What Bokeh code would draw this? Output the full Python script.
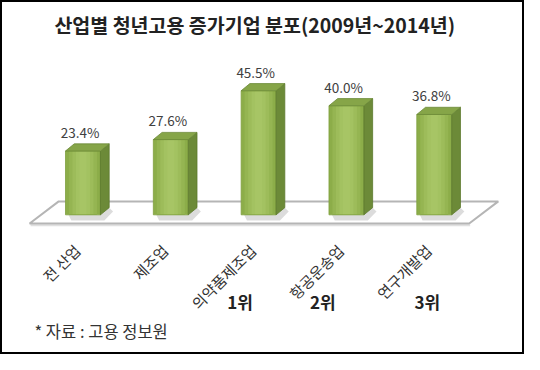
import math
from bokeh.plotting import figure
from bokeh.models import Range1d
from bokeh.core.properties import value
from bokeh.embed import file_html
from bokeh.resources import INLINE

# ---- data ----
categories = ["전 산업", "제조업", "의약품제조업", "항공운송업", "연구개발업"]
values = [23.4, 27.6, 45.5, 40.0, 36.8]
value_labels = ["23.4%", "27.6%", "45.5%", "40.0%", "36.8%"]
ranks = ["", "", "1위", "2위", "3위"]
title_text = "산업별 청년고용 증가기업 분포(2009년~2014년)"
source_text = "* 자료 : 고용 정보원"

# ---- layout constants (reference is laid out in a 540x370 frame) ----
W, H = 524, 354
KX = W / 540.0
KY = H / 370.0
SX = 90.5 * KX        # px per category step
SY = 2.85 * KY        # px per percent
X0 = 85 * KX          # px of first category centre from figure left
Y0 = H - 224 * KY     # px of zero line from figure bottom
FONT = "Noto Sans CJK KR"


def ux(px):
    return (px * KX - X0) / SX


def uy(py):
    return (H - py * KY - Y0) / SY


def dxu(px):
    return px * KX / SX


def dyu(px):
    return px * KY / SY


p = figure(width=W, height=H, output_backend="svg", toolbar_location=None,
           x_range=Range1d(-X0 / SX, (W - X0) / SX),
           y_range=Range1d(-Y0 / SY, (H - Y0) / SY),
           min_border=0, x_axis_location=None, y_axis_location=None)
p.grid.visible = False
p.outline_line_color = "black"
p.outline_line_width = 3
p.background_fill_color = "white"
p.border_fill_color = "white"

n = len(categories)
idx = list(range(n))

# floor
fl_x = [ux(30), ux(60), ux(513), ux(483)]
fl_y = [uy(233), uy(210), uy(210), uy(233)]
p.line([ux(31), ux(484)], [uy(235), uy(235)], line_color="#e0e0e0", line_width=2)
p.patch(fl_x, fl_y, fill_color="white", line_color="#b5b5b5", line_width=2)

hw = dxu(18)
ddx = dxu(9)
ddy = dyu(7.5)

# shadows
sh_xs, sh_ys = [], []
for i, v in zip(idx, values):
    sh_xs.append([i - hw + dxu(3), i + hw, i + hw + ddx, i + hw + ddx + dxu(4), i + hw + dxu(4), i - hw + dxu(6)])
    sh_ys.append([0, 0, ddy, ddy - dyu(4), -dyu(6), -dyu(6)])
p.patches(sh_xs, sh_ys, fill_color="#8a8a8a", fill_alpha=0.3, line_color=None)

# front faces with a soft horizontal gradient (nested overlays)
grad = [(1.0, "#8cad49"), (0.8, "#95b552"), (0.6, "#9dbc5a"), (0.4, "#a3c261"), (0.2, "#a7c565")]
for frac, c in grad:
    p.quad(left=[i - hw * frac for i in idx], right=[i + hw * frac for i in idx],
           bottom=[0] * n, top=values, fill_color=c, line_color=None)
p.quad(left=[i - hw for i in idx], right=[i + hw for i in idx], bottom=[0] * n, top=values,
       fill_color=None, line_color="#7f9f3f", line_width=0.8)

# side and top faces
sd_xs, sd_ys, tp_xs, tp_ys = [], [], [], []
for i, v in zip(idx, values):
    sd_xs.append([i + hw, i + hw + ddx, i + hw + ddx, i + hw])
    sd_ys.append([0, ddy, v + ddy, v])
    tp_xs.append([i - hw, i + hw, i + hw + ddx, i - hw + ddx])
    tp_ys.append([v, v, v + ddy, v + ddy])
p.patches(sd_xs, sd_ys, fill_color="#6c8a38", line_color="#5c792c", line_width=0.8)
p.patches(tp_xs, tp_ys, fill_color="#86a548", line_color="#6c8a38", line_width=0.8)

# value labels
p.text(x=[i - dxu(3) for i in idx], y=[v + dyu(20) for v in values], text=value_labels,
       text_font=value(FONT), text_font_size="13.5px", text_color="#404040",
       text_align="center", text_baseline="middle")

# category labels (rotated)
p.text(x=[i - dxu(6) for i in idx], y=[uy(258)] * n, text=categories,
       angle=math.pi / 4, text_font=value(FONT), text_font_size="15px", text_color="#333333",
       text_align="right", text_baseline="middle")

# rank labels
rank_dx = [0, 0, -0.21, -0.27, -0.08]
p.text(x=[i + d for i, d in zip(idx, rank_dx)], y=[uy(315)] * n, text=ranks,
       text_font=value(FONT), text_font_size="17px", text_font_style="bold", text_color="#222222",
       text_align="center", text_baseline="middle")

# title
p.text(x=[ux(262)], y=[uy(25)], text=[title_text], text_font=value(FONT),
       text_font_size="19.5px", text_font_style="bold", text_color="#222222",
       text_align="center", text_baseline="middle")

# source
p.text(x=[ux(35)], y=[uy(345)], text=[source_text], text_font=value(FONT),
       text_font_size="16.5px", text_color="#333333", text_align="left", text_baseline="middle")

open("out.html", "w").write(file_html(p, INLINE))
